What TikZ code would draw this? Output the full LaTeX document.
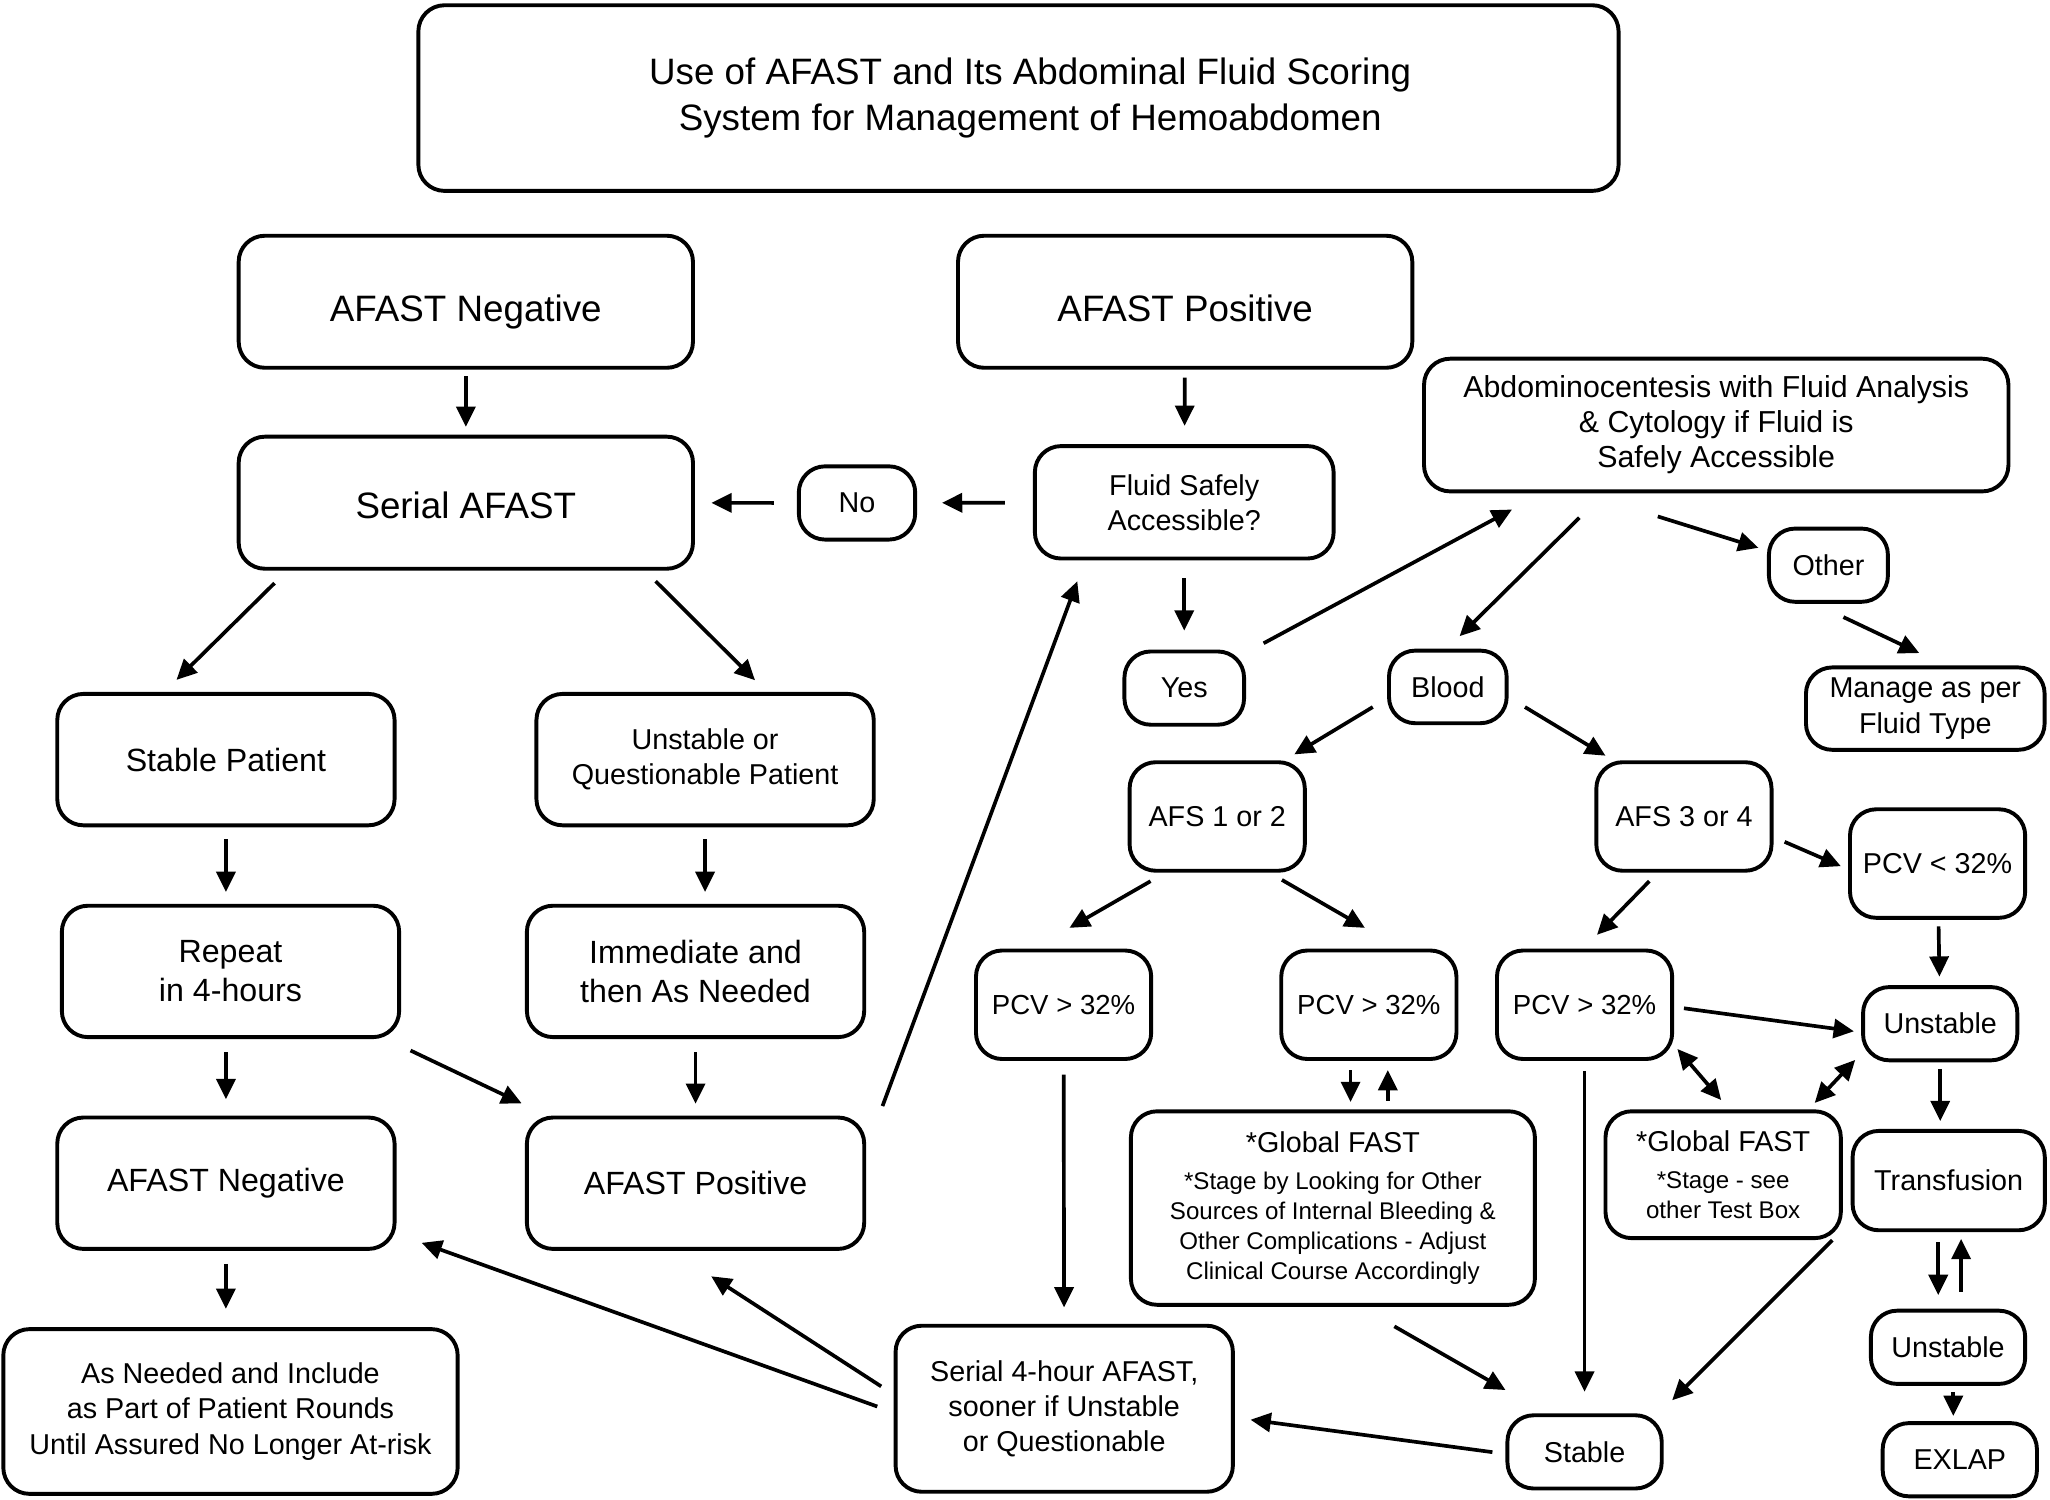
\documentclass[tikz,border=0pt]{standalone}
\usepackage{fontspec}
\setmainfont{Liberation Sans}
\usetikzlibrary{calc,arrows.meta}

\tikzset{
  box/.style={draw, line width=1.7pt, rounded corners=4mm, align=center, inner sep=0pt},
  big/.style={box, font=\fontsize{16}{20}\selectfont},
  mid/.style={box, font=\fontsize{14}{17}\selectfont},
  sml/.style={box, font=\fontsize{12.5}{15.3}\selectfont},
  tiny/.style={box, font=\fontsize{10.5}{13.1}\selectfont},
  wide/.style={minimum width=69.5mm, minimum height=20.2mm},
  half/.style={minimum width=51.6mm, minimum height=20.1mm},
  pcvbox/.style={sml, minimum width=26.8mm, minimum height=16.6mm},
  tag/.style={sml, minimum width=23.6mm, minimum height=11.2mm},
}

\begin{document}
\begin{tikzpicture}[x=0.2mm, y=-0.2mm, line width=1.6pt, >={Triangle[length=3.1mm,width=2.9mm]}]
\useasboundingbox (0,0) rectangle (1568,1147.3);

% top row
\node[big, minimum width=183.6mm, minimum height=28.4mm] (title) at (779,75) {\hspace*{3.6mm}Use of AFAST and Its Abdominal Fluid Scoring\\\hspace*{3.6mm}System for Management of Hemoabdomen};
\node[big, wide, text height=17pt, text depth=0pt] (neg1) at (356.3,230.8) {AFAST Negative};
\node[big, wide, text height=17pt, text depth=0pt] (pos1) at (906.5,230.8) {AFAST Positive};
\node[big, wide, text height=14pt, text depth=0pt] (serial) at (356.3,384.5) {Serial AFAST};
\node[sml, minimum width=17.8mm, minimum height=11.2mm] (no) at (655.5,384.7) {No};
\node[sml, minimum width=45.7mm, minimum height=17.2mm] (fluid) at (905.8,384.2) {Fluid Safely\\Accessible?};
\node[sml, font=\fontsize{13.2}{15.2}\selectfont, minimum width=89.4mm, minimum height=20.3mm] (abdo) at (1312.7,325.1) {Abdominocentesis with Fluid Analysis\\\& Cytology if Fluid is\\Safely Accessible};
\node[sml, minimum width=18.2mm, minimum height=11.2mm] (other) at (1398.5,432.3) {Other};
\node[sml, minimum width=36.5mm, minimum height=12.6mm] (manage) at (1472.6,542) {Manage as per\\Fluid Type};
\node[sml, minimum width=18.3mm, minimum height=11.2mm] (yes) at (905.8,526.3) {Yes};
\node[sml, minimum width=18mm, minimum height=11.1mm] (blood) at (1107.4,525.4) {Blood};

% left side
\node[mid, half] (stable1) at (172.8,581) {Stable Patient};
\node[sml, half] (unst1) at (539.3,581) {Unstable or\\Questionable Patient};
\node[mid, half] (repeat) at (176.3,743) {Repeat\\in 4-hours};
\node[mid, half] (immed) at (532,743) {Immediate and\\then As Needed};
\node[mid, half] (negB) at (172.8,905) {AFAST Negative};
\node[mid, half] (posB) at (532,905) {AFAST Positive};
\node[sml, minimum width=69.5mm, minimum height=25.2mm] (asneeded) at (176.3,1079.6) {As Needed and Include\\as Part of Patient Rounds\\Until Assured No Longer At-risk};
\node[sml, minimum width=51.6mm, minimum height=25.4mm] (serial4) at (814,1077.5) {Serial 4-hour AFAST,\\sooner if Unstable\\or Questionable};

% right side
\node[pcvbox] (afs12) at (931,624.5) {AFS 1 or 2};
\node[pcvbox] (afs34) at (1288,624.5) {AFS 3 or 4};
\node[pcvbox] (pcvlt) at (1482,660.5) {PCV < 32\%};
\node[pcvbox, font=\fontsize{12}{14}\selectfont] (pcv1) at (813.5,768.5) {PCV > 32\%};
\node[pcvbox, font=\fontsize{12}{14}\selectfont] (pcv2) at (1047,768.5) {PCV > 32\%};
\node[pcvbox, font=\fontsize{12}{14}\selectfont] (pcv3) at (1212,768.5) {PCV > 32\%};
\node[tag] (unstA) at (1484,783) {Unstable};
\node[tiny, minimum width=61.8mm, minimum height=29.6mm] (gfast1) at (1019.5,924) {{\fontsize{12.5}{15}\selectfont *Global FAST}\\[3pt]*Stage by Looking for Other\\Sources of Internal Bleeding \&\\Other Complications - Adjust\\Clinical Course Accordingly};
\node[tiny, minimum width=36mm, minimum height=19.4mm] (gfast2) at (1318,898.5) {{\fontsize{12.5}{15}\selectfont *Global FAST}\\[3pt]*Stage - see\\other Test Box};
\node[sml, minimum width=29.4mm, minimum height=15.2mm] (transf) at (1490.5,903) {Transfusion};
\node[tag] (unstB) at (1490,1030.5) {Unstable};
\node[tag] (exlap) at (1499,1116.5) {EXLAP};
\node[tag] (stable) at (1212,1110.5) {Stable};

% connectors
\draw[->, shorten <=1mm, shorten >=1.2mm] (neg1) -- (serial);
\draw[->, shorten <=1.2mm, shorten >=2.8mm] (pos1) -- (fluid);
\draw[->, shorten <=4.3mm, shorten >=3.8mm] (fluid) -- (no);
\draw[->, shorten <=3.5mm, shorten >=2.5mm] (no) -- (serial);
\draw[->] ($(serial)+(-146.3,61.5)$) -- ($(stable1)+(-37.8,-61)$);
\draw[->] ($(serial)+(145.2,60.1)$) -- ($(unst1)+(38.2,-60.7)$);
\draw[->, shorten <=1.8mm, shorten >=1.8mm] (stable1.south) -- (stable1.south |- repeat.north);
\draw[->, shorten <=1.8mm, shorten >=1.8mm] (unst1.south) -- (unst1.south |- immed.north);
\draw[->, shorten <=2mm, shorten >=2.5mm] (repeat.south -| negB) -- (negB.north);
\draw[->, shorten <=2mm, shorten >=1.8mm] (immed) -- (posB);
\draw[->] ($(repeat)+(137.7,60.5)$) -- ($(posB)+(-133,-61.1)$);
\draw[->, shorten <=2mm, shorten >=2.8mm] (negB.south) -- (negB.south |- asneeded.north);
\draw[->] ($(posB)+(143,-59)$) -- ($(fluid)+(-81.8,60.4)$);
\draw[->, shorten <=2.7mm, shorten >=2.9mm] (fluid) -- (yes);
\draw[->] ($(yes)+(60.7,-34.3)$) -- ($(abdo)+(-156.2,64.6)$);
\draw[->] ($(abdo)+(-104.7,70.9)$) -- ($(blood)+(9,-38.8)$);
\draw[->] ($(abdo)+(-44.7,69.9)$) -- ($(other)+(-53.5,-13.3)$);
\draw[->] ($(other)+(11.5,39.7)$) -- ($(manage)+(-4.6,-42.5)$);
\draw[->] ($(blood)+(-57.4,15.4)$) -- ($(afs12)+(59,-47.5)$);
\draw[->] ($(blood)+(59,15.4)$) -- ($(afs34)+(-60,-46.5)$);
\draw[->] ($(afs12)+(-51,49.5)$) -- ($(pcv1)+(4.5,-58.8)$);
\draw[->] ($(afs12)+(49.5,48.5)$) -- ($(pcv2)+(-3,-58.8)$);
\draw[->] ($(afs34)+(-26.5,49.5)$) -- ($(pcv3)+(9.5,-53.5)$);
\draw[->] ($(afs34)+(77,19.4)$) -- ($(pcvlt)+(-74,2)$);
\draw[->, shorten <=1mm, shorten >=1.3mm] (pcvlt) -- (unstA);
\draw[->] ($(pcv3)+(76,2.7)$) -- ($(unstA)+(-66,5.8)$);
\draw[<->] ($(pcv3)+(71,33.8)$) -- ($(gfast2)+(-1.5,-57.1)$);
\draw[<->] ($(gfast2)+(70,-54.9)$) -- ($(unstA)+(-65,27.7)$);
\draw[->, shorten <=1mm, shorten >=1.2mm] (unstA.south) -- (unstA.south |- transf.north);
\draw[->] ($(pcv2.south)+(-14,7)$) -- ($(pcv2.south |- gfast1.north)+(-14,-5.6)$);
\draw[->] ($(pcv2.south |- gfast1.north)+(14.5,-6.7)$) -- ($(pcv2.south)+(14.5,7)$);
\draw[->] ($(transf.south)+(-8,7.6)$) -- ($(transf.south |- unstB.north)+(-8,-10.5)$);
\draw[->] ($(transf.south |- unstB.north)+(9.5,-13)$) -- ($(transf.south)+(9.5,5)$);
\draw[->] ($(unstB.south)+(4,5)$) -- ($(unstB.south |- exlap.north)+(4,-4)$);
\draw[->, shorten <=2.1mm, shorten >=2.5mm] (pcv1) -- (serial4);
\draw[->, shorten <=1.6mm, shorten >=3.3mm] (pcv3) -- (stable);
\draw[->] ($(gfast1)+(47,90.5)$) -- ($(stable)+(-60.5,-47.3)$);
\draw[->] ($(gfast2)+(83.5,50.1)$) -- ($(stable)+(67,-39.5)$);
\draw[->] ($(stable)+(-70.5,0.2)$) -- ($(serial4)+(142.5,8.4)$);
\draw[->] ($(serial4)+(-140,-17.1)$) -- ($(posB)+(12,71.2)$);
\draw[->] ($(serial4)+(-143,-1.7)$) -- ($(negB)+(149.7,45.6)$);
\end{tikzpicture}
\end{document}
